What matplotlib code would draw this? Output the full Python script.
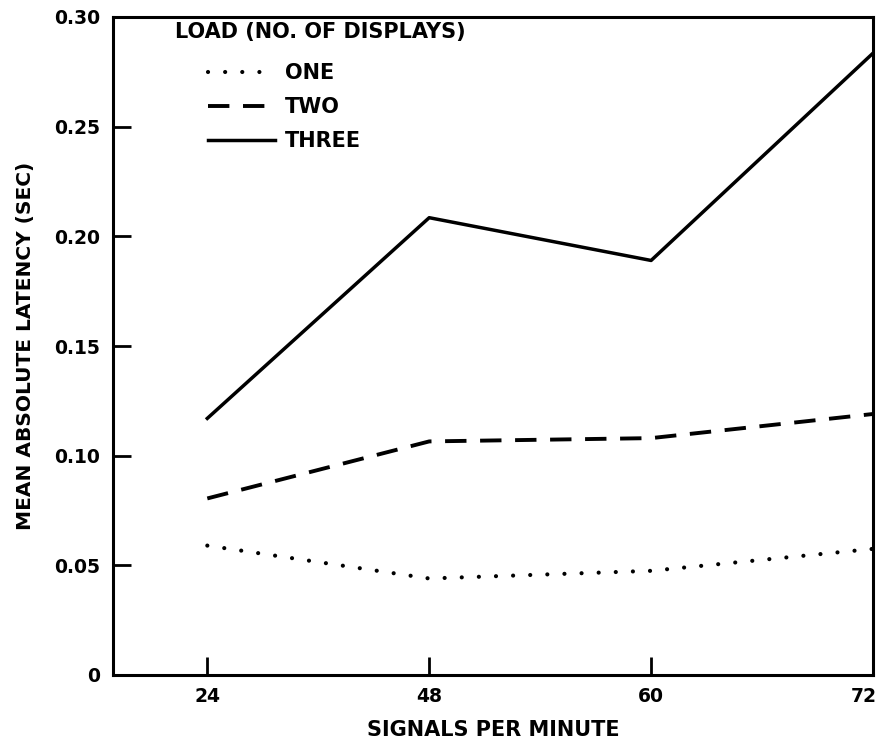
import matplotlib
matplotlib.use('Agg')
import matplotlib.pyplot as plt
from matplotlib.transforms import ScaledTranslation

# signals per minute (categorical, equally spaced on the axis)
signals = ['24', '48', '60', '72']

# mean absolute latency (sec) per display load
one = [0.059, 0.044, 0.0475, 0.0575]
two = [0.0805, 0.1065, 0.108, 0.119]
three = [0.117, 0.2085, 0.189, 0.2835]

series_labels = ['ONE', 'TWO', 'THREE']
yticks = [0, 0.05, 0.10, 0.15, 0.20, 0.25, 0.30]
ytick_labels = ['0', '0.05', '0.10', '0.15', '0.20', '0.25', '0.30']

plt.rcParams['font.family'] = ['DejaVu Sans']
plt.rcParams['font.weight'] = 'bold'
plt.rcParams['axes.labelweight'] = 'bold'

fig = plt.figure(figsize=(8.84, 7.49), dpi=100)
ax = fig.add_axes([113 / 884, 1 - 675 / 749, 760 / 884, 658 / 749])

x = list(range(len(signals)))
ax.plot(x, one, color='black', linewidth=3.0, linestyle=(0, (0.01, 4.1)),
        dash_capstyle='round', label=series_labels[0])
ax.plot(x, two, color='black', linewidth=2.8, linestyle=(0, (5.5, 3.5)),
        label=series_labels[1])
ax.plot(x, three, color='black', linewidth=2.5, label=series_labels[2])

ax.set_xlim(-0.425, 3.0)
ax.set_ylim(0, 0.30)
ax.set_xticks(x)
ax.set_xticklabels(signals)
ax.set_yticks(yticks)
ax.set_yticklabels(ytick_labels)

for side in ['left', 'right', 'top', 'bottom']:
    ax.spines[side].set_linewidth(2.2)
ax.tick_params(axis='both', direction='in', length=13, width=2.0,
               labelsize=13.5, color='black')
ax.tick_params(axis='y', pad=9)
ax.tick_params(axis='x', pad=9)

# the last label sits on the figure edge; nudge it inside a little
last = ax.get_xticklabels()[-1]
last.set_transform(last.get_transform() + ScaledTranslation(-7 / 72, 0, fig.dpi_scale_trans))

ax.set_xlabel('SIGNALS PER MINUTE', fontsize=15, labelpad=10)
ax.set_ylabel('MEAN ABSOLUTE LATENCY (SEC)', fontsize=14.5, labelpad=14)

# legend title drawn separately so the entries sit indented beneath it
ax.text(0.082, 0.977, 'LOAD (NO. OF DISPLAYS)', transform=ax.transAxes,
        fontsize=15, ha='left', va='center')
ax.legend(loc='upper left', bbox_to_anchor=(0.125, 0.93), frameon=False,
          fontsize=15, handlelength=3.2, handletextpad=0.5, labelspacing=0.67,
          borderpad=0, borderaxespad=0)

plt.savefig('out.png', dpi=100)
